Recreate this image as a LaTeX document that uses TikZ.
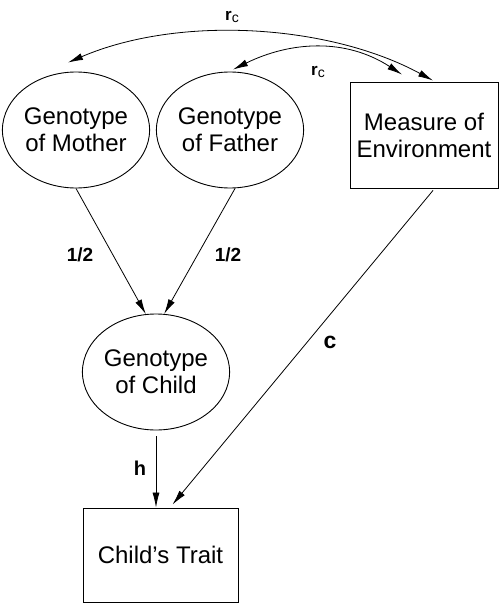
\documentclass[tikz,border=0pt]{standalone}
\usepackage{fontspec}
\setmainfont{Liberation Sans}
\usetikzlibrary{arrows.meta,shapes.geometric}
\begin{document}
\begin{tikzpicture}[x=1pt,y=-1pt,
  every node/.style={font=\fontsize{24}{27}\selectfont, align=center},
  latent/.style={ellipse, draw, line width=0.9pt, minimum width=134pt, minimum height=116pt, inner sep=0pt},
  obs/.style={rectangle, draw, line width=0.9pt, inner sep=0pt},
  tipA/.style={-{Latex[length=15pt,width=7pt]}},
  conn/.style={line width=0.8pt, tipA},
  dconn/.style={line width=0.8pt, {Latex[length=15pt,width=7pt]}-{Latex[length=15pt,width=7pt]}},
  lbl/.style={font=\bfseries\fontsize{20}{24}\selectfont, inner sep=0pt}]
\useasboundingbox (0,0) rectangle (500,604);
\node[latent] (mother) at (76,130) {Genotype\\of Mother};
\node[latent] (father) at (230,130) {Genotype\\of Father};
\node[obs, minimum width=148pt, minimum height=106pt] (env) at (424,135) {Measure of\\Environment};
\node[latent] (child) at (156,372) {Genotype\\of Child};
\node[obs, minimum width=155pt, minimum height=94pt] (trait) at (160.5,555) {Child's Trait};
% paths
\draw[conn] (mother.south) -- (child.100);
\draw[conn] (father.-85) -- (child.82);
\draw[conn] ([yshift=-6pt]child.south) -- (child.south |- trait.north);
\draw[conn] ([xshift=9pt,yshift=-2pt]env.south) -- ([xshift=12pt,yshift=3pt]trait.north);
\draw[dconn] ([xshift=-8pt,yshift=9pt]mother.north) .. controls +(112,-48) and +(-103,-56) .. ([xshift=9pt,yshift=1pt]env.north);
\draw[dconn] ([xshift=3pt,yshift=2pt]father.north) .. controls +(57,-28) and +(-57,-37) .. ([xshift=-22pt,yshift=7pt]env.north);
% labels
\node[lbl, font=\bfseries\fontsize{19}{22}\selectfont] (l1) at (80,255) {1/2};
\node[lbl, font=\bfseries\fontsize{19}{22}\selectfont] (l2) at (228,255) {1/2};
\node[lbl] (lh) at (140,468) {h};
\node[lbl, font=\bfseries\fontsize{23}{26}\selectfont] (lc) at (330,342) {c};
\node[inner sep=0pt] (r1) at (232,17) {\bfseries\fontsize{17}{20}\selectfont r\raisebox{-2pt}{\mdseries\fontsize{14}{16}\selectfont c}};
\node[inner sep=0pt] (r2) at (318,72) {\bfseries\fontsize{17}{20}\selectfont r\raisebox{-2pt}{\mdseries\fontsize{14}{16}\selectfont c}};
\end{tikzpicture}
\end{document}
